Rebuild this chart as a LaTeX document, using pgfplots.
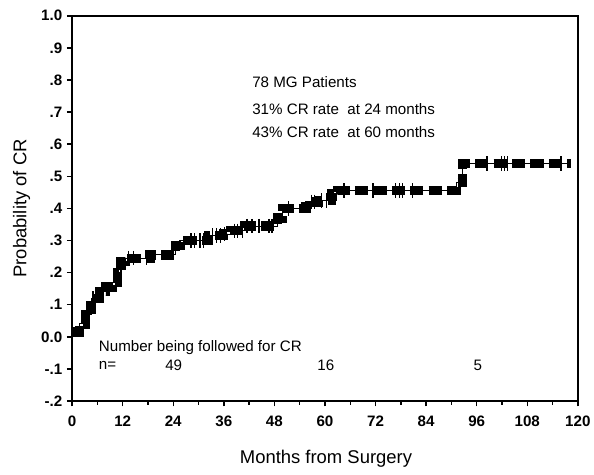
\documentclass[border=0pt]{standalone}
\usepackage{fontspec}
\setmainfont{Liberation Sans}
\usepackage{pgfplots}
\usepackage{pgfplotstable}
\pgfplotsset{compat=1.18}

% Kaplan-Meier steps (months, probability of CR)
\pgfplotstableread{
m p
0 0.015
1.8 0.04
3.2 0.07
4.5 0.12
6.5 0.14
8 0.155
9.5 0.17
10.8 0.20
11.6 0.235
12.6 0.245
18.5 0.255
24.6 0.285
25.6 0.30
32.3 0.315
36 0.32
37.5 0.33
41 0.345
48.8 0.37
50 0.40
55.5 0.42
58.5 0.425
61.5 0.445
63 0.455
91.3 0.48
92.6 0.54
118.3 0.54
}\km

% censored observations
\pgfplotstableread{
m p
5.0 0.12
13.4 0.245
14.6 0.245
17.6 0.245
28.2 0.30
29.1 0.30
30.3 0.30
31.2 0.30
33.3 0.315
34.3 0.315
35.2 0.315
36.1 0.32
38.5 0.33
39.2 0.33
40.4 0.33
41.5 0.345
42.7 0.345
44.4 0.345
46.7 0.345
47.4 0.345
51.4 0.40
56.8 0.42
57.5 0.42
59.2 0.425
60.3 0.425
62.7 0.445
64.5 0.455
71.4 0.455
76.8 0.455
77.7 0.455
78.4 0.455
80.8 0.455
98.4 0.54
101.9 0.54
102.6 0.54
103.3 0.54
116 0.54
}\cens

\begin{document}
\begin{tikzpicture}
\begin{axis}[
  scale only axis, width=384pt, height=292.5pt,
  xmin=0, xmax=120, ymin=-0.2, ymax=1.0,
  xtick={0,12,24,36,48,60,72,84,96,108,120},
  minor xtick={6,18,30,42,54,66,78,90,102,114},
  xticklabels={0,12,24,36,48,60,72,84,96,108,120},
  ytick={-0.2,-0.1,0,0.1,0.2,0.3,0.4,0.5,0.6,0.7,0.8,0.9,1.0},
  yticklabels={-.2,-.1,0.0,.1,.2,.3,.4,.5,.6,.7,.8,.9,1.0},
  tick align=outside, tick pos=left,
  major tick length=4pt, minor tick length=3pt,
  axis line style={line width=1.4pt},
  tick style={line width=1.1pt, black},
  tick label style={font=\bfseries\fontsize{11.5}{13}\selectfont},
  xticklabel style={yshift=-3.5pt},
  xlabel={Months from Surgery},
  ylabel={Probability of CR},
  label style={font=\fontsize{14}{16}\selectfont},
  xlabel style={at={(axis description cs:0.502,-0.151)}, anchor=center},
  ylabel style={at={(axis description cs:-0.100,0.5)}, anchor=center, rotate=0},
  clip=false,
]
\addplot[const plot, line width=0.8pt, black] table {\km};
\addplot[const plot, line width=7pt, black, dash pattern=on 10pt off 4pt, line cap=butt] table {\km};
\addplot[only marks, mark=|, mark size=5.5pt, mark options={line width=1.1pt, black}] table {\cens};

\begin{scope}[every node/.style={font=\fontsize{11.5}{13}\selectfont, inner sep=0pt}]
\node[anchor=west] at (axis cs:42.7,0.793) {78 MG Patients};
\node[anchor=west] at (axis cs:42.7,0.710) {31\% CR rate\ \ at 24 months};
\node[anchor=west] at (axis cs:42.7,0.639) {43\% CR rate\ \ at 60 months};
\node[anchor=west] at (axis cs:6.3,-0.034) {Number being followed for CR};
\node[anchor=west] at (axis cs:6.3,-0.089) {n=};
\node at (axis cs:24.1,-0.089) {49};
\node at (axis cs:60.2,-0.089) {16};
\node at (axis cs:96.3,-0.089) {5};
\end{scope}

\coordinate (bl) at (axis description cs:-0.1426,-0.1897);
\coordinate (tr) at (axis description cs:1.032,1.041);
\end{axis}
\pgfresetboundingbox
\useasboundingbox (bl) rectangle (tr);
\end{tikzpicture}
\end{document}
